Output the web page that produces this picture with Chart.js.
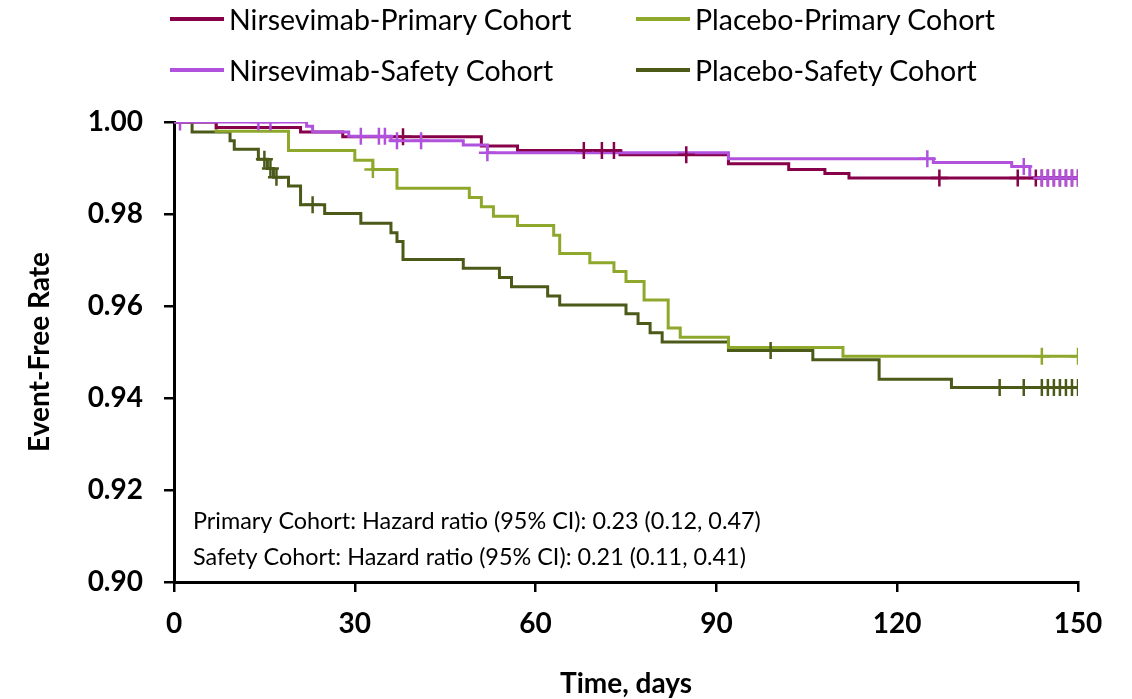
<!DOCTYPE html>
<html>
<head>
<meta charset="utf-8">
<title>Event-Free Rate</title>
<script src="https://cdn.jsdelivr.net/npm/chart.js@4.4.1/dist/chart.umd.min.js"></script>
<style>
    body { margin: 0; background: #fff; }
    #wrap { position: relative; width: 1132px; height: 699px; font-family: Lato, sans-serif; }
    #myChart { position: absolute; left: 0; top: 0; }
    .item { position: absolute; display: flex; align-items: center; height: 30px; font-size: 28.5px; color: #000; white-space: nowrap; }
    .swatch { width: 54px; height: 4px; margin-right: 5px; }
</style>
</head>
<body>
<div id="wrap">
    <canvas id="myChart" width="1132" height="699"></canvas>
    <div id="legend"></div>
</div>
<script>
const seriesNames = ['Nirsevimab-Primary Cohort', 'Placebo-Primary Cohort', 'Nirsevimab-Safety Cohort', 'Placebo-Safety Cohort'];
const seriesColors = ['#87004A', '#8EA82B', '#B152DE', '#4B5A19'];

// Kaplan-Meier steps: day of the drop and the new event-free rate
const nirPrimaryDays = [0, 7, 21, 28, 51, 57, 74, 92, 102, 108, 112, 150];
const nirPrimaryRate = [1.0, 0.9988, 0.9978, 0.9968, 0.9948, 0.9938, 0.9929, 0.9909, 0.9897, 0.9888, 0.9878, 0.9878];
const nirPrimaryCensorDays = [38, 68, 71, 73, 85, 127, 140, 143, 144, 145, 146, 147, 148, 149, 150];
const nirPrimaryCensorRate = [0.9968, 0.9938, 0.9938, 0.9938, 0.9929, 0.9878, 0.9878, 0.9878, 0.9878, 0.9878, 0.9878, 0.9878, 0.9878, 0.9878, 0.9878];

const plaPrimaryDays = [0, 7, 19, 30, 33, 37, 49, 51, 53, 57, 63, 64, 69, 73, 75, 78, 82, 84, 92, 111, 150];
const plaPrimaryRate = [1.0, 0.998, 0.9938, 0.9917, 0.9897, 0.9856, 0.9836, 0.9816, 0.9795, 0.9775, 0.9754, 0.9714, 0.9694, 0.9675, 0.9653, 0.9613, 0.9552, 0.9532, 0.951, 0.9491, 0.9491];
const plaPrimaryCensorDays = [33, 144, 150];
const plaPrimaryCensorRate = [0.9897, 0.9491, 0.9491];

const nirSafetyDays = [0, 22, 23, 29, 36, 48, 52, 92, 126, 139, 142, 150];
const nirSafetyRate = [1.0, 0.9991, 0.9978, 0.9969, 0.9959, 0.995, 0.9933, 0.992, 0.9912, 0.9903, 0.9878, 0.9878];
const nirSafetyCensorDays = [1, 14, 16, 31, 34, 35, 37, 41, 52, 125, 141, 144, 145, 146, 147, 148, 149, 150];
const nirSafetyCensorRate = [1.0, 1.0, 1.0, 0.9969, 0.9969, 0.9969, 0.9959, 0.9959, 0.9933, 0.992, 0.9903, 0.9878, 0.9878, 0.9878, 0.9878, 0.9878, 0.9878, 0.9878];

const plaSafetyDays = [0, 3, 9.3, 10, 14, 15.5, 16.5, 19, 21, 25, 31, 36, 37, 38, 48, 54, 56, 62, 64, 75, 77, 79, 81, 92, 106, 117, 129, 150];
const plaSafetyRate = [1.0, 0.9978, 0.9959, 0.9941, 0.9919, 0.9899, 0.988, 0.9861, 0.982, 0.9801, 0.978, 0.9759, 0.974, 0.9701, 0.9682, 0.9662, 0.9642, 0.9622, 0.9602, 0.9583, 0.9562, 0.9542, 0.9522, 0.9503, 0.9483, 0.9441, 0.9423, 0.9423];
const plaSafetyCensorDays = [15, 16, 17, 23, 99, 137, 141, 144, 145, 146, 147, 148, 149, 150];
const plaSafetyCensorRate = [0.9919, 0.9899, 0.988, 0.982, 0.9503, 0.9423, 0.9423, 0.9423, 0.9423, 0.9423, 0.9423, 0.9423, 0.9423, 0.9423];

const xTicks = [0, 30, 60, 90, 120, 150];
const yTicks = [0.90, 0.92, 0.94, 0.96, 0.98, 1.00];
const hazardNotes = [
    'Primary Cohort: Hazard ratio (95% CI): 0.23 (0.12, 0.47)',
    'Safety Cohort: Hazard ratio (95% CI): 0.21 (0.11, 0.41)'
];

function toPoints(days, rate) {
    return days.map((d, i) => ({ x: d, y: rate[i] }));
}

function curve(days, rate, color, order) {
    return {
        data: toPoints(days, rate),
        borderColor: color,
        borderWidth: 3,
        stepped: 'before',
        pointRadius: 0,
        fill: false,
        order: order
    };
}

function censors(days, rate, color, order) {
    return {
        data: toPoints(days, rate),
        showLine: false,
        pointStyle: 'cross',
        pointRadius: 8.5,
        pointHoverRadius: 8.5,
        pointBorderWidth: 2.5,
        pointBorderColor: color,
        borderColor: color,
        order: order
    };
}

// legend in two fixed columns, like the original
const legendPos = [[170, 4], [636, 4], [170, 55], [636, 55]];
const legend = document.getElementById('legend');
seriesNames.forEach((name, i) => {
    const item = document.createElement('div');
    item.className = 'item';
    item.style.left = legendPos[i][0] + 'px';
    item.style.top = legendPos[i][1] + 'px';
    item.innerHTML = '<span class="swatch" style="background:' + seriesColors[i] + '"></span>' + name;
    legend.appendChild(item);
});

const notesPlugin = {
    id: 'notes',
    afterDraw(chart) {
        const ctx = chart.ctx;
        const area = chart.chartArea;
        ctx.save();
        ctx.font = '23.4px Lato';
        ctx.fillStyle = '#000';
        ctx.textBaseline = 'middle';
        ctx.fillText(hazardNotes[0], area.left + 19, area.bottom - 61);
        ctx.fillText(hazardNotes[1], area.left + 19, area.bottom - 25);
        ctx.restore();
    }
};

const tickFont = { family: 'Lato', size: 28, weight: 'bold' };

new Chart(document.getElementById('myChart'), {
    type: 'line',
    data: {
        datasets: [
            curve(nirPrimaryDays, nirPrimaryRate, seriesColors[0], 6),
            curve(plaPrimaryDays, plaPrimaryRate, seriesColors[1], 7),
            curve(nirSafetyDays, nirSafetyRate, seriesColors[2], 5),
            curve(plaSafetyDays, plaSafetyRate, seriesColors[3], 8),
            censors(nirPrimaryCensorDays, nirPrimaryCensorRate, seriesColors[0], 2),
            censors(plaPrimaryCensorDays, plaPrimaryCensorRate, seriesColors[1], 3),
            censors(nirSafetyCensorDays, nirSafetyCensorRate, seriesColors[2], 1),
            censors(plaSafetyCensorDays, plaSafetyCensorRate, seriesColors[3], 4)
        ]
    },
    options: {
        responsive: false,
        animation: false,
        devicePixelRatio: 1,
        layout: { padding: { top: 122, right: 54, bottom: 0, left: 0 } },
        plugins: {
            legend: { display: false },
            tooltip: { enabled: false }
        },
        scales: {
            x: {
                type: 'linear',
                min: 0,
                max: 150,
                afterBuildTicks: s => { s.ticks = xTicks.map(v => ({ value: v })); },
                afterFit: s => { s.height = 117; },
                ticks: { font: tickFont, color: '#000', padding: 15, maxRotation: 0, callback: v => String(v) },
                grid: { drawOnChartArea: false, drawTicks: true, tickLength: 10, color: '#000', lineWidth: 2.5 },
                border: { color: '#000', width: 3 },
                title: { display: true, text: 'Time, days', color: '#000', font: tickFont, padding: { top: 0, bottom: -2 } }
            },
            y: {
                min: 0.9,
                max: 1.0,
                afterBuildTicks: s => { s.ticks = yTicks.map(v => ({ value: v })); },
                afterFit: s => { s.width = 174; },
                ticks: { font: tickFont, color: '#000', padding: 21, callback: v => v.toFixed(2) },
                grid: { drawOnChartArea: false, drawTicks: true, tickLength: 10, color: '#000', lineWidth: 2.5 },
                border: { color: '#000', width: 3 },
                title: { display: true, text: 'Event-Free Rate', color: '#000', font: tickFont, padding: { top: 23, bottom: 0 } }
            }
        }
    },
    plugins: [notesPlugin]
});
</script>
</body>
</html>
